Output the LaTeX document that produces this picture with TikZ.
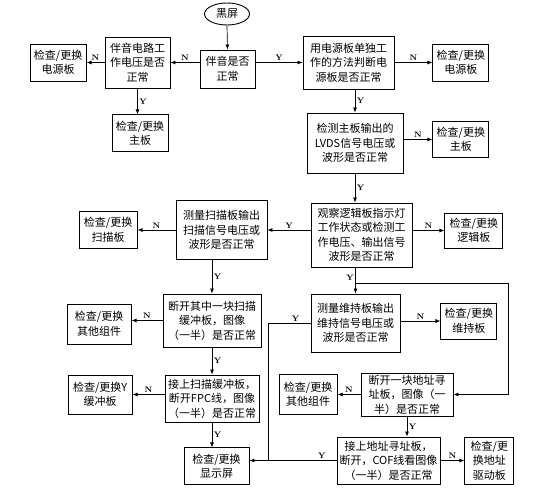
\documentclass[tikz,border=0pt]{standalone}
\usepackage{fontspec}
\newfontfamily\cjk{Noto Sans CJK SC}
\usetikzlibrary{arrows.meta, positioning, shapes.geometric}

\begin{document}
\begin{tikzpicture}[
      x=1pt, y=-1pt,
      box/.style 2 args={draw, line width=0.9pt, align=center, inner sep=1pt, minimum width=#1, minimum height=#2, font=\cjk\fontsize{11}{14.5}\selectfont},
      term/.style={draw, ellipse, line width=0.9pt, minimum width=45pt, minimum height=22pt, inner sep=0pt, font=\cjk\fontsize{11}{14.5}\selectfont},
      arr/.style={-{Latex[length=5pt, width=4pt]}, line width=0.7pt},
      lbl/.style={font=\footnotesize\bfseries, inner sep=1.5pt},
    ]
    \useasboundingbox (0,0) rectangle (541,500);

    % main chain
    \node[term] (start) at (227,14) {黑屏};
    \node[box={55pt}{38pt}] (sound) at (227.5,69) {伴音是否\\正常};
    \node[box={65pt}{51pt}] (audio_v) at (137.5,62.5) {伴音电路工\\作电压是否\\正常};
    \node[box={91pt}{53pt}] (psu_test) at (348.5,62.5) {用电源板单独工\\作的方法判断电\\源板是否正常};
    \node[box={96pt}{60pt}] (lvds) at (355,143) {检测主板输出的\\LVDS信号电压或\\波形是否正常};
    \node[box={101pt}{64pt}] (logic) at (361.5,235) {观察逻辑板指示灯\\工作状态或检测工\\作电压、输出信号\\波形是否正常};
    \node[box={91pt}{59pt}] (scan) at (221.5,230) {测量扫描板输出\\扫描信号电压或\\波形是否正常};
    \node[box={98pt}{53pt}] (scan_buf) at (212,320.5) {断开其中一块扫描\\缓冲板，图像\\（一半）是否正常};
    \node[box={94pt}{47pt}] (fpc) at (212,398.5) {接上扫描缓冲板，\\断开FPC线，图像\\（一半）是否正常};
    \node[box={89pt}{58pt}] (sustain) at (355.5,323) {测量维持板输出\\维持信号电压或\\波形是否正常};
    \node[box={92pt}{43pt}] (addr) at (407,394.5) {断开一块地址寻\\址板，图像（一\\半）是否正常};
    \node[box={103pt}{47pt}] (cof) at (388.5,460.5) {接上地址寻址板，\\断开，COF线看图像\\（一半）是否正常};

    % check / replace boxes
    \node[box={56pt}{37pt}, left=18pt of audio_v] (chk_psu1) {检查/更换\\电源板};
    \node[box={56pt}{37pt}, below=26pt of audio_v, xshift=2.5pt] (chk_main1) {检查/更换\\主板};
    \node[box={56pt}{37pt}, right=38pt of psu_test] (chk_psu2) {检查/更换\\电源板};
    \node[box={56pt}{36pt}, right=29pt of lvds, yshift=3.5pt] (chk_main2) {检查/更换\\主板};
    \node[box={58pt}{35pt}, right=32pt of logic, yshift=4.5pt] (chk_logic) {检查/更换\\逻辑板};
    \node[box={58pt}{37pt}, left=38pt of scan] (chk_scan) {检查/更换\\扫描板};
    \node[box={64pt}{40pt}, left=31pt of scan_buf, yshift=-3.5pt] (chk_other1) {检查/更换\\其他组件};
    \node[box={64pt}{39pt}, left=32pt of fpc, yshift=4pt] (chk_ybuf) {检查/更换Y\\缓冲板};
    \node[box={65pt}{37pt}, below=25pt of fpc, xshift=4.5pt] (chk_panel) {检查/更换\\显示屏};
    \node[box={56pt}{36pt}, right=40pt of sustain, yshift=2pt] (chk_sustain) {检查/更换\\维持板};
    \node[box={58pt}{40pt}, left=23pt of addr] (chk_other2) {检查/更换\\其他组件};
    \node[box={49pt}{47pt}, right=24pt of cof] (chk_addr) {检查/更\\换地址\\驱动板};

    \coordinate (split) at (355.5,283);
    \coordinate (rturn) at (508,283);
    \coordinate (lturn) at (268,323);

    % connectors
    \draw[arr] (start.south) -- (sound.north);
    \draw[arr] (sound.west |- audio_v.east) -- node[lbl, above] {N} (audio_v.east);
    \draw[arr] (audio_v.west) -- node[lbl, above] {N} (chk_psu1.east);
    \draw[arr] (audio_v.south) -- node[lbl, right] {Y} (audio_v.south |- chk_main1.north);
    \draw[arr] (sound.east |- psu_test.west) -- node[lbl, above] {Y} (psu_test.west);
    \draw[arr] (psu_test.east) -- node[lbl, above] {N} (chk_psu2.west);
    \draw[arr] (lvds.north |- psu_test.south) -- node[lbl, right] {Y} (lvds.north);
    \draw[arr] (lvds.east |- chk_main2.west) -- node[lbl, above] {N} (chk_main2.west);
    \draw[arr] (lvds.south) -- node[lbl, right] {Y} (lvds.south |- logic.north);
    \draw[arr] (logic.east |- chk_logic.west) -- node[lbl, above] {N} (chk_logic.west);
    \draw[arr] (logic.west |- scan.east) -- node[lbl, above] {Y} (scan.east);
    \draw[arr] (scan.west) -- node[lbl, above] {N} (chk_scan.east);
    \draw[arr] (scan_buf.north |- scan.south) -- node[lbl, right] {Y} (scan_buf.north);
    \draw[arr] (scan_buf.west) -- node[lbl, above] {N} (scan_buf.west -| chk_other1.east);
    \draw[arr] (scan_buf.south) -- node[lbl, right] {Y} (fpc.north);
    \draw[arr] (fpc.west |- chk_ybuf.east) -- node[lbl, above] {N} (chk_ybuf.east);
    \draw[arr] (fpc.south) -- node[lbl, right] {Y} (fpc.south |- chk_panel.north);

    \draw[arr] (sustain.north |- logic.south) -- node[lbl, left, pos=0.4] {Y} (sustain.north);
    \draw[arr] (split) -- (rturn) |- (addr.east);
    \draw[arr] (sustain.east |- chk_sustain.west) -- node[lbl, above] {N} (chk_sustain.west);
    \draw[line width=0.7pt] (sustain.west) -- node[lbl, above, pos=0.35] {Y} (lturn) -- (lturn |- cof.west);
    \draw[arr] (addr.west) -- node[lbl, above] {N} (chk_other2.east);
    \draw[arr] (addr.south) -- node[lbl, right] {Y} (addr.south |- cof.north);
    \draw[arr] (cof.west) -- node[lbl, above, pos=0.17] {Y} (cof.west -| chk_panel.east);
    \draw[arr] (cof.east) -- node[lbl, above] {N} (chk_addr.west);
  \end{tikzpicture}
\end{document}
